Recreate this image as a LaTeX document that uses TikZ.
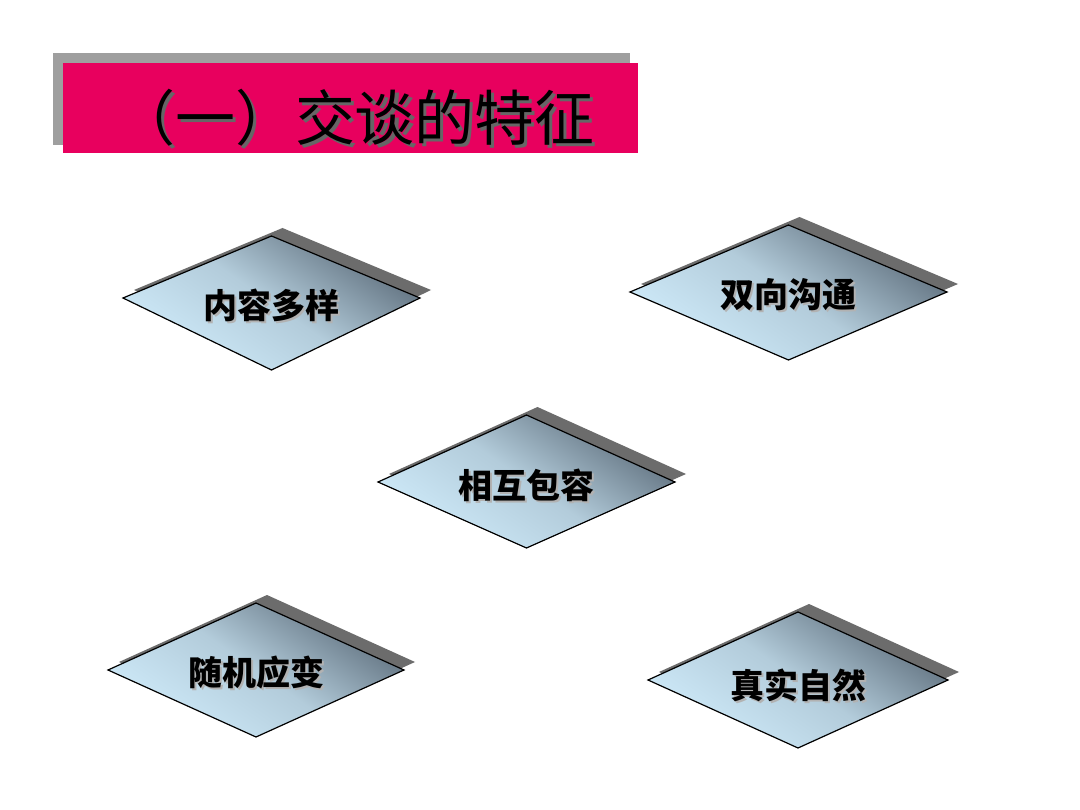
\documentclass[tikz,border=0pt]{standalone}
\usepackage{fontspec}
\newfontfamily\cjk{Noto Sans CJK SC}
\definecolor{pinkbar}{HTML}{E8005E}
\definecolor{darkd}{HTML}{5E6E7C}
\definecolor{lightd}{HTML}{CFEBFA}
\begin{document}
\begin{tikzpicture}[x=1pt,y=-1pt,
  dshadow/.style={fill=gray!85!black},
  dbody/.style={draw=black,line width=1.2pt,left color=darkd,right color=lightd,middle color=lightd!75!darkd,shading angle=-35},
  dtext/.style={font=\cjk\bfseries\fontsize{34}{36}\selectfont,text=black},
  dtshadow/.style={font=\cjk\bfseries\fontsize{34}{36}\selectfont,text=gray!60}]
\useasboundingbox[fill=white] (0,0) rectangle (1080,810);
% title
\fill[gray!75] (53,53) rectangle (630,145);
\fill[pinkbar] (63,63) rectangle (638,153);
\node[font=\cjk\fontsize{60}{64}\selectfont,text=gray!80!black] (tts) at (358,121) {（一）交谈的特征};
\node[font=\cjk\fontsize{60}{64}\selectfont,text=black] (tt) at (355,118) {（一）交谈的特征};
\foreach \l/\r/\t/\b/\m/\n/\s/\ty in {
  123/420/236/370/298/a/内容多样/305,
  630/947/225/360/292/b/双向沟通/295,
  378/675/415/548/482/c/相互包容/485,
  108/404/603/737/670/d/随机应变/673,
  648/948/612/748/680/e/真实自然/685}{
  \pgfmathsetmacro\cx{(\l+\r)/2}
  \pgfmathsetmacro\hw{(\r-\l)/2}
  \fill[dshadow] ({\l+11},{\m-8}) -- ({\cx+11},{\t-8}) -- ({\r+11},{\m-8}) -- ({\cx+11},{\b-8}) -- cycle;
  \begin{scope}[shift={(\cx,0)},xscale=-1]
    \path[dbody] (-\hw,\m) -- (0,\t) -- (\hw,\m) -- (0,\b) -- cycle;
  \end{scope}
  \node[dtshadow] (\n s) at ({\cx+2},{\ty+2}) {\s};
  \node[dtext] (\n) at (\cx,\ty) {\s};
}
\end{tikzpicture}
\end{document}
